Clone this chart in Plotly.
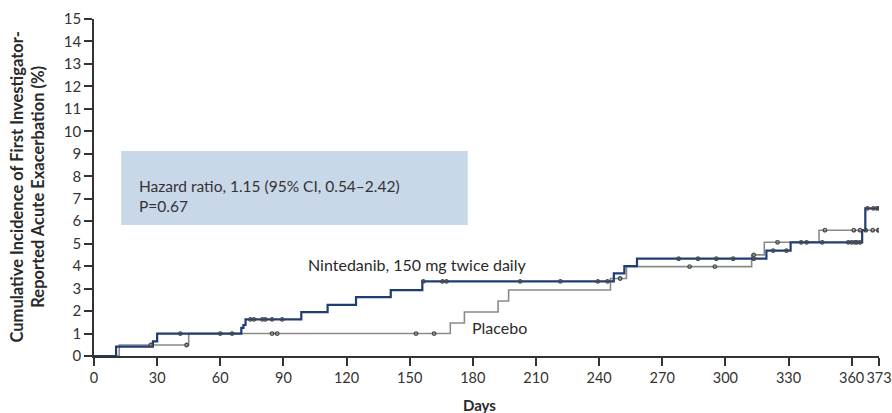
import plotly.graph_objects as go

# ---- data ----
nint_days = [0, 10.5, 28, 30, 70, 71, 72, 98.5, 111, 124.5, 141, 156, 247, 252, 258, 319.5, 331, 365, 366.5, 373]
nint_vals = [0, 0.42, 0.65, 1.0, 1.25, 1.38, 1.63, 1.95, 2.28, 2.62, 2.93, 3.32, 3.68, 4.0, 4.33, 4.69, 5.06, 5.6, 6.57, 6.57]

plac_days = [0, 12, 45, 169.3, 176, 192, 197, 245.4, 253, 312.5, 318.5, 344.5, 373]
plac_vals = [0, 0.49, 1.0, 1.47, 1.96, 2.45, 2.94, 3.45, 3.98, 4.5, 5.06, 5.6, 5.6]

nint_censor_days = [41, 60, 65.6, 74.3, 76, 80, 81.4, 84.6, 89.4, 156.5, 165.6, 167.5, 202.5,
                    221.6, 239.4, 244, 277.8, 287, 295.7, 303.7, 313.5, 322.7, 329, 336, 338.6,
                    346, 358.4, 360, 361.5, 362.5, 364, 367.5, 370.3, 372, 373]
plac_censor_days = [27, 44, 84.6, 87, 153, 161.6, 250, 283, 295, 313.5, 324.8, 347.3, 361,
                    364, 366.7, 370, 372.7, 373]

x_ticks = [0, 30, 60, 90, 120, 150, 180, 210, 240, 270, 300, 330, 360, 373]
y_ticks = list(range(0, 16))

hr_text = "Hazard ratio, 1.15 (95% CI, 0.54\u20132.42)<br>P=0.67"
nint_label = "Nintedanib, 150 mg twice daily"
plac_label = "Placebo"

BLUE = "#1f3c74"
GRAY = "#8a8a8a"
FONT = "Lato"
TXT = "#2a2a2a"


def step_value(days, vals, d):
    v = vals[0]
    for dd, vv in zip(days, vals):
        if dd <= d:
            v = vv
    return v


fig = go.Figure()

fig.add_trace(go.Scatter(x=plac_days, y=plac_vals, mode="lines", line=dict(color=GRAY, width=1.6, shape="hv"),
                         showlegend=False, hoverinfo="skip"))
fig.add_trace(go.Scatter(x=nint_days, y=nint_vals, mode="lines", line=dict(color=BLUE, width=2.2, shape="hv"),
                         showlegend=False, hoverinfo="skip"))

mk = dict(symbol="circle-open", size=3.5, color="#4a4a4a", line=dict(width=1.3, color="#4a4a4a"))
fig.add_trace(go.Scatter(x=plac_censor_days, y=[step_value(plac_days, plac_vals, d) for d in plac_censor_days],
                         mode="markers", marker=mk, showlegend=False, hoverinfo="skip"))
fig.add_trace(go.Scatter(x=nint_censor_days, y=[step_value(nint_days, nint_vals, d) for d in nint_censor_days],
                         mode="markers", marker=mk, showlegend=False, hoverinfo="skip"))

# hazard ratio box
fig.add_shape(type="rect", xref="x", yref="y", x0=12.9, x1=177.6, y0=5.83, y1=9.12,
              fillcolor="#c8d8e8", line=dict(width=0), layer="below")
fig.add_annotation(x=20.5, y=7.1, xref="x", yref="y", text=hr_text, showarrow=False,
                   xanchor="left", yanchor="middle", align="left",
                   font=dict(family=FONT, size=15.5, color="#333333"))

fig.add_annotation(x=153.3, y=4.09, xref="x", yref="y", text=nint_label, showarrow=False,
                   xanchor="center", yanchor="middle", font=dict(family=FONT, size=16, color=TXT))
fig.add_annotation(x=192.6, y=1.29, xref="x", yref="y", text=plac_label, showarrow=False,
                   xanchor="center", yanchor="middle", font=dict(family=FONT, size=16, color=TXT))

fig.add_annotation(x=0, y=0.5, xref="paper", yref="paper", xshift=-67, text=
                   "Cumulative Incidence of First Investigator-<br>Reported Acute Exacerbation (%)",
                   showarrow=False, textangle=-90, xanchor="center", yanchor="middle",
                   font=dict(family=FONT, size=16.5, color=TXT, weight="bold"))
fig.add_annotation(x=183, y=0, xref="x", yref="paper", yshift=-49, text="Days", showarrow=False,
                   xanchor="center", yanchor="middle",
                   font=dict(family=FONT, size=15, color=TXT, weight="bold"))

fig.update_xaxes(range=[0, 373], tickvals=x_ticks, ticktext=[str(t) for t in x_ticks],
                 showgrid=False, zeroline=False, showline=True, linecolor="#333333", linewidth=1.5,
                 ticks="outside", ticklen=8, tickwidth=1.5, tickcolor="#333333",
                 ticklabeloverflow="allow", tickangle=0, automargin=False,
                 tickfont=dict(family=FONT, size=14.5, color="#333333"))
fig.update_yaxes(range=[0, 15], tickvals=y_ticks, showgrid=False, zeroline=False, showline=True,
                 linecolor="#333333", linewidth=1.5, ticks="outside", ticklen=8, tickwidth=1.5,
                 automargin=False,
                 tickcolor="#333333", tickfont=dict(family=FONT, size=15, color="#333333"))

fig.update_layout(width=892, height=413, margin=dict(l=94, r=13, t=19, b=57),
                  plot_bgcolor="white", paper_bgcolor="white")

fig.write_html("out.html", config={"displayModeBar": False},
               post_script="document.body.style.margin='0';document.body.style.overflow='hidden';")
